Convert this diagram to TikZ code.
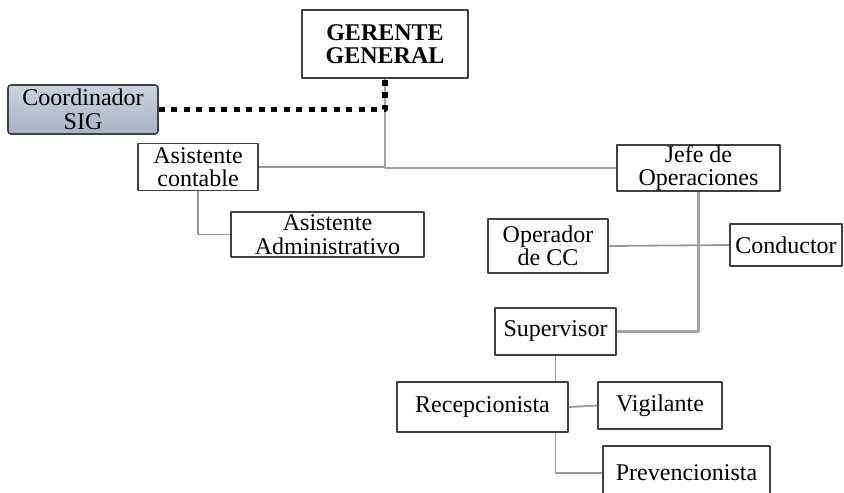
\documentclass[tikz,border=0pt]{standalone}
\usepackage{fontspec}
\setmainfont{Liberation Serif}
\definecolor{sigtop}{HTML}{CBD3DF}
\definecolor{sigmid}{HTML}{B3BECF}
\definecolor{sigbot}{HTML}{A6B2C5}
\begin{document}
\begin{tikzpicture}[x=1pt,y=-1pt,line join=round,
  box/.style={draw=black!75,line width=1.6pt,fill=white,align=center,inner sep=0pt,
    font=\fontsize{24}{23.5}\selectfont},
  link/.style={draw=black!36,line width=2.8pt},
  thin link/.style={draw=black!40,line width=1.8pt},
  dots/.style={draw=black,line width=5.5pt,dash pattern=on 6pt off 6.5pt}]
  \useasboundingbox (0,0) rectangle (844,493);
  \node[box,font=\fontsize{24}{23.5}\selectfont\bfseries,minimum width=166pt,minimum height=68pt] (GG) at (385,44) {GERENTE\\GENERAL};
  \node[box,rounded corners=3pt,top color=sigtop,middle color=sigmid,bottom color=sigbot,
    minimum width=150pt,minimum height=49pt] (CS) at (83,109.5) {Coordinador\\SIG};
  \node[box,minimum width=120pt,minimum height=47pt] (AC) at (198,167) {Asistente\\contable};
  \node[box,minimum width=193pt,minimum height=45pt] (AA) at (327.5,234.5) {Asistente\\Administrativo};
  \node[box,minimum width=163pt,minimum height=42pt] (JO) at (698.5,168) {Jefe de\\Operaciones};
  \node[box,minimum width=120pt,minimum height=54pt] (OP) at (548,246) {Operador\\de CC};
  \node[box,minimum width=112pt,minimum height=42pt] (CD) at (786,245) {Conductor};
  \node[box,minimum width=121pt,minimum height=47pt] (SU) at (555.5,331.5) {Supervisor};
  \node[box,minimum width=171pt,minimum height=50pt] (RE) at (482.5,407) {Recepcionista};
  \node[box,minimum width=124pt,minimum height=47pt] (VI) at (660,405.5) {Vigilante};
  \node[box,minimum width=167pt,minimum height=54pt] (PR) at (686.5,473) {Prevencionista};
  % connectors
  \draw[link] (GG.south) |- (JO.west);
  \draw[dots] (CS.east) -| (GG.south);
  \draw[thin link] (AC.east) -- (AC.east -| GG.south);
  \draw[thin link] (AC.south) |- (AA.west);
  \draw[link] (JO.south) |- (SU.east);
  \draw[thin link] (OP.east) -- (CD.west);
  \draw[thin link] (SU.south) -- (SU.south |- RE.north);
  \draw[thin link] (RE.east) -- (VI.west);
  \draw[thin link] (SU.south |- RE.south) |- (PR.west);
\end{tikzpicture}
\end{document}
